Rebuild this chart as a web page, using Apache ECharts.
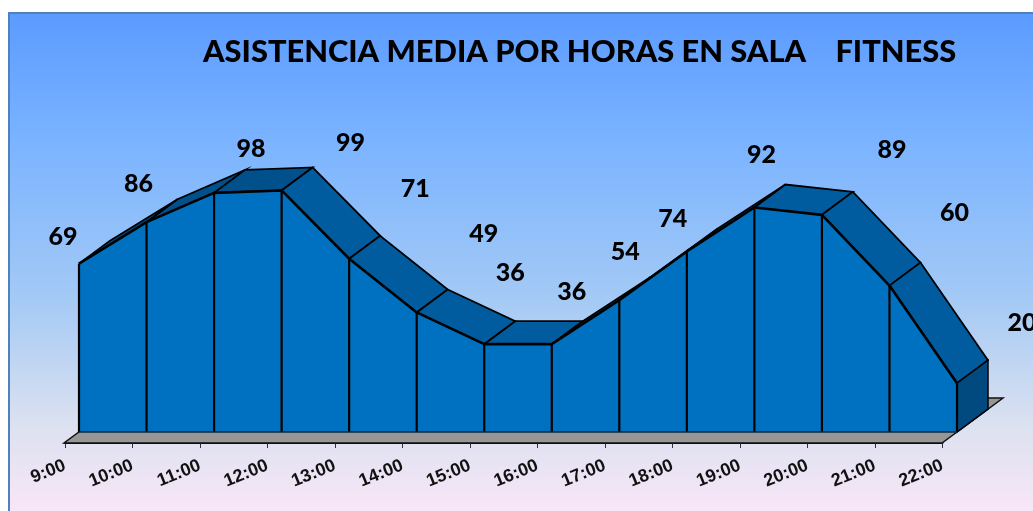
<!DOCTYPE html>
<html><head><meta charset="utf-8">
<style>html,body{margin:0;padding:0;background:#fff}#c{width:1033px;height:511px}</style>
<script src="https://cdn.jsdelivr.net/npm/echarts@6/dist/echarts.min.js"></script>
</head><body><div id="c"></div>
<script>
const hours = ['9:00','10:00','11:00','12:00','13:00','14:00','15:00','16:00','17:00','18:00','19:00','20:00','21:00','22:00'];
const attendance = [69,86,98,99,71,49,36,36,54,74,92,89,60,20];
const labelOffsets = [[-16,-27],[-8,-38],[37,-44],[69,-48],[66,-70],[67,-79],[26,-71],[20,-52],[6,-48],[-14,-33],[7,-53],[70,-65],[65,-73],[65,-60]];
const titleText = 'ASISTENCIA MEDIA POR HORAS EN SALA    FITNESS';

const DEPTH = [31,-23];
const FRONT = [-15,11];
const BACK = [46,-34];
const last = hours.length - 1;
const shift = (p, d) => [p[0] + d[0], p[1] + d[1]];

const chart = echarts.init(document.getElementById('c'), null, {renderer:'canvas'});
chart.setOption({
  animation:false,
  backgroundColor:'#fff',
  graphic:[{
    type:'rect', z:-10, silent:true,
    shape:{x:9,y:13,width:1040,height:515},
    style:{
      fill:new echarts.graphic.LinearGradient(0,0,0,1,[
        {offset:0,color:'#5B9BFF'},
        {offset:0.27,color:'#7DB5FF'},
        {offset:0.55,color:'#A3C9F5'},
        {offset:0.8,color:'#DCE1F0'},
        {offset:0.96,color:'#F7E6F7'},
        {offset:1,color:'#F7E6F7'}
      ]),
      stroke:'#4F81BD',lineWidth:2
    }
  }],
  title:{
    text:titleText,left:198,top:32,
    textStyle:{fontFamily:'Lato',fontWeight:900,fontSize:30.8,color:'#000'}
  },
  grid:[
    {left:79,width:878,top:188,height:244},
    {left:65,width:877.5,top:300,height:143}
  ],
  xAxis:[
    {type:'category',gridIndex:0,data:hours,boundaryGap:false,show:false},
    {type:'category',gridIndex:1,data:hours,boundaryGap:false,
     axisLine:{show:true,lineStyle:{color:'#000',width:2}},
     axisTick:{show:true,alignWithLabel:true,length:5,lineStyle:{color:'#333',width:1}},
     axisLabel:{interval:0,rotate:22,margin:22,fontFamily:'Liberation Sans',fontWeight:'bold',fontSize:18,color:'#111'}}
  ],
  yAxis:[
    {type:'value',gridIndex:0,min:0,max:100,show:false},
    {type:'value',gridIndex:1,min:0,max:100,show:false}
  ],
  series:[
    {type:'custom',name:'suelo',xAxisIndex:0,yAxisIndex:0,z:1,silent:true,data:[0],
     renderItem(params,api){
       const a = api.coord([0,0]), b = api.coord([last,0]);
       return {type:'polygon',shape:{points:[shift(a,FRONT),shift(b,FRONT),shift(b,BACK),shift(a,BACK)]},
         style:{fill:'#969696',stroke:'#111',lineWidth:1.5}};
     }},
    {type:'custom',name:'cara superior',xAxisIndex:0,yAxisIndex:0,z:3,silent:true,data:attendance,
     renderItem(params,api){
       const i = params.dataIndex;
       if(i === last){
         const t = api.coord([i,attendance[i]]), b = api.coord([i,0]);
         return {type:'polygon',shape:{points:[t,shift(t,DEPTH),shift(b,DEPTH),b]},
           style:{fill:'#004A80',stroke:'#000',lineWidth:1.5}};
       }
       const p = api.coord([i,attendance[i]]), q = api.coord([i+1,attendance[i+1]]);
       const fill = attendance[i+1] > attendance[i] ? '#00508C' : '#005C9F';
       return {type:'polygon',shape:{points:[p,q,shift(q,DEPTH),shift(p,DEPTH)]},
         style:{fill,stroke:'#000',lineWidth:1.8}};
     }},
    {type:'line',name:'Asistencia',xAxisIndex:0,yAxisIndex:0,z:5,clip:false,smooth:false,
     symbol:'circle',symbolSize:0,showSymbol:true,
     lineStyle:{color:'#000',width:2.6},
     areaStyle:{color:'#0070C0',opacity:1},
     itemStyle:{color:'#000'},
     data:attendance.map((v,i)=>({value:v,label:{offset:labelOffsets[i]}})),
     label:{show:true,position:'inside',fontFamily:'Lato',fontWeight:900,fontSize:25,color:'#000'}},
    {type:'custom',name:'divisiones',xAxisIndex:0,yAxisIndex:0,z:6,silent:true,data:attendance,
     renderItem(params,api){
       const i = params.dataIndex;
       const t = api.coord([i,attendance[i]]), b = api.coord([i,0]);
       return {type:'line',shape:{x1:t[0],y1:t[1],x2:b[0],y2:b[1]},style:{stroke:'#000',lineWidth:2.2}};
     }},
    {type:'custom',name:'base',xAxisIndex:0,yAxisIndex:0,z:6,silent:true,data:[0],
     renderItem(params,api){
       const a = api.coord([0,0]), b = api.coord([last,0]);
       return {type:'line',shape:{x1:a[0],y1:a[1],x2:b[0],y2:b[1]},style:{stroke:'#0a2a44',lineWidth:1.5}};
     }}
  ]
});
</script></body></html>
